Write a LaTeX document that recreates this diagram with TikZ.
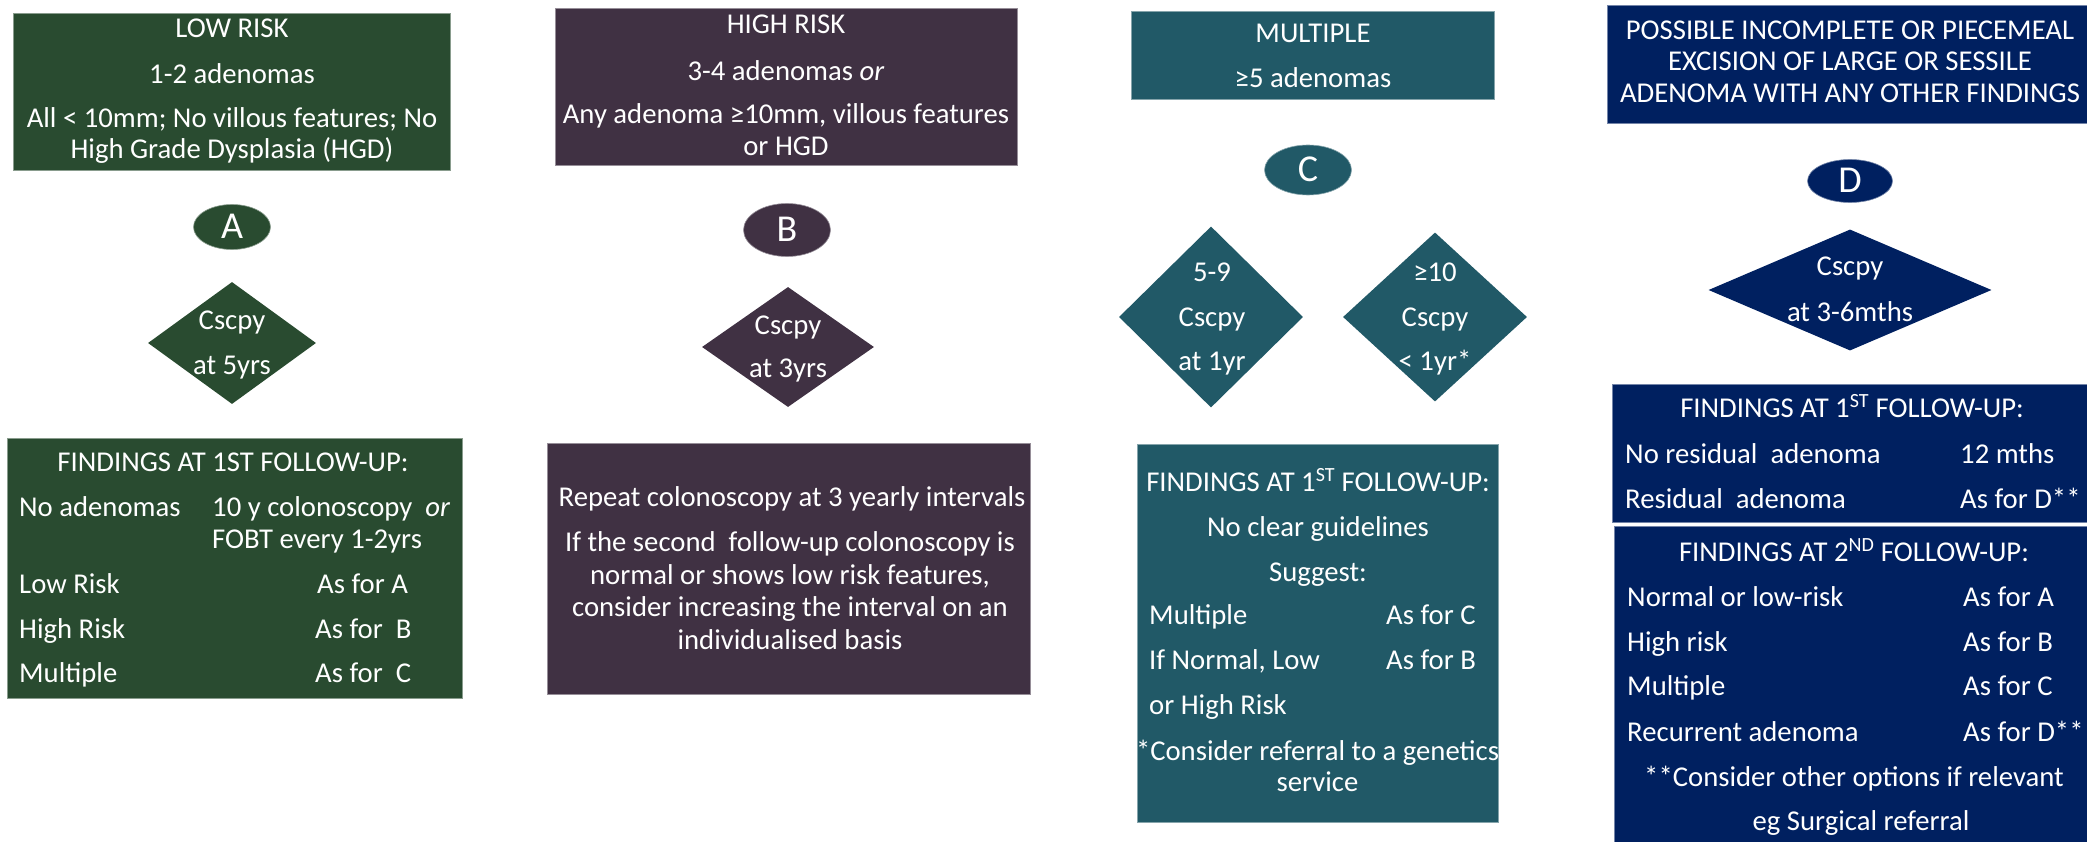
\documentclass[tikz,border=0pt]{standalone}
\usepackage{fontspec}
\setmainfont{Carlito}
\usetikzlibrary{shapes.geometric}
\definecolor{cgreen}{RGB}{41,75,48}
\definecolor{cpurple}{RGB}{64,49,67}
\definecolor{cteal}{RGB}{33,89,103}
\definecolor{cnavy}{RGB}{0,32,96}
\tikzset{
  txt/.style={inner sep=0pt, text height=18pt, text depth=0pt, text=white, font=\fontsize{28.7}{32}\selectfont},
  txtl/.style={txt, anchor=west},
  box/.style={rectangle, inner sep=0pt, fill=#1, draw=#1!55!white, line width=0.8pt},
  oval/.style={ellipse, inner sep=0pt, fill=#1, draw=#1!55!white, line width=0.6pt, text=white,
     text height=24pt, text depth=0pt, font=\fontsize{38}{40}\selectfont},
  dia/.style={diamond, inner sep=0pt, fill=#1, draw=none}
}
\begin{document}
\begin{tikzpicture}[x=1pt,y=-1pt]
\useasboundingbox (0,0) rectangle (2087,842);
\clip (0,0) rectangle (2087,842);

% ---------------- Column A ----------------
\node[box=cgreen, minimum width=437, minimum height=157] (boxA1) at (231.5,91.5) {};
\node[txt] (a1) at (232,29) {LOW RISK};
\node[txt] (a2) at (232,75) {1-2 adenomas};
\node[txt] (a3) at (232,119) {All < 10mm; No villous features; No};
\node[txt] (a4) at (232,150) {High Grade Dysplasia (HGD)};
\node[oval=cgreen, minimum width=77, minimum height=45] (ovA) at (232,227) {A};
\node[dia=cgreen, minimum width=168, minimum height=122] (diaA) at (232,343) {};
\node[txt] (da1) at (232,320) {Cscpy};
\node[txt] (da2) at (232,365) {at 5yrs};
\node[box=cgreen, minimum width=455, minimum height=260] (boxA2) at (234.5,568) {};
\node[txt] (fa0) at (233,462) {FINDINGS AT 1ST FOLLOW-UP:};
\node[txtl] (fa1) at (19,507) {No adenomas};
\node[txtl] (fa2) at (212,507) {10 y colonoscopy\ \ \textit{or}};
\node[txtl] (fa3) at (212,539) {FOBT every 1-2yrs};
\node[txtl] (fa4) at (19,584) {Low Risk};
\node[txtl] (fa5) at (317,584) {As for A};
\node[txtl] (fa6) at (19,629) {High Risk};
\node[txtl] (fa7) at (315,629) {As for\ \ B};
\node[txtl] (fa8) at (19,673) {Multiple};
\node[txtl] (fa9) at (315,673) {As for\ \ C};

% ---------------- Column B ----------------
\node[box=cpurple, minimum width=462, minimum height=157] (boxB1) at (786,86.5) {};
\node[txt] (b1) at (786,25) {HIGH RISK};
\node[txt] (b2) at (786,72) {3-4 adenomas \textit{or}};
\node[txt] (b3) at (786,115) {Any adenoma ≥10mm, villous features};
\node[txt] (b4) at (786,147) {or HGD};
\node[oval=cpurple, minimum width=87, minimum height=53] (ovB) at (787,230) {B};
\node[dia=cpurple, minimum width=172, minimum height=120] (diaB) at (788,347) {};
\node[txt] (db1) at (788,325) {Cscpy};
\node[txt] (db2) at (788,368) {at 3yrs};
\node[box=cpurple, minimum width=483, minimum height=251] (boxB2) at (788.5,568.5) {};
\node[txt] (fb1) at (792,497) {Repeat colonoscopy at 3 yearly intervals};
\node[txt] (fb2) at (790,542) {If the second\ \ follow-up colonoscopy is};
\node[txt] (fb3) at (790,575) {normal or shows low risk features,};
\node[txt] (fb4) at (790,607) {consider increasing the interval on an};
\node[txt] (fb5) at (790,640) {individualised basis};

% ---------------- Column C ----------------
\node[box=cteal, minimum width=363, minimum height=88] (boxC1) at (1312.5,55) {};
\node[txt] (c1) at (1313,34) {MULTIPLE};
\node[txt] (c2) at (1313,79) {≥5 adenomas};
\node[oval=cteal, minimum width=87, minimum height=50] (ovC) at (1308,170) {C};
\node[dia=cteal, minimum width=184, minimum height=181] (diaC1) at (1211,317) {};
\node[txt] (dc1) at (1212,272) {5-9};
\node[txt] (dc2) at (1212,317) {Cscpy};
\node[txt] (dc3) at (1212,361) {at 1yr};
\node[dia=cteal, minimum width=184, minimum height=169] (diaC2) at (1435,317) {};
\node[txt] (dc4) at (1435,272) {≥10};
\node[txt] (dc5) at (1435,317) {Cscpy};
\node[txt] (dc6) at (1435,361) {< 1yr*};
\node[box=cteal, minimum width=361, minimum height=378] (boxC2) at (1317.5,633) {};
\node[txt] (fc0) at (1318,482) {FINDINGS AT 1\textsuperscript{ST} FOLLOW-UP:};
\node[txt] (fc1) at (1318,527) {No clear guidelines};
\node[txt] (fc2) at (1318,572) {Suggest:};
\node[txtl] (fc3) at (1149,615) {Multiple};
\node[txtl] (fc4) at (1386,615) {As for C};
\node[txtl] (fc5) at (1149,660) {If Normal, Low};
\node[txtl] (fc6) at (1386,660) {As for B};
\node[txtl] (fc7) at (1149,705) {or High Risk};
\node[txt] (fc8) at (1317.5,751) {*Consider referral to a genetics};
\node[txt] (fc9) at (1317.5,782) {service};

% ---------------- Column D ----------------
\node[box=cnavy, minimum width=488, minimum height=118] (boxD1) at (1851,64) {};
\node[txt] (d1) at (1850,31) {POSSIBLE INCOMPLETE OR PIECEMEAL};
\node[txt] (d2) at (1850,62) {EXCISION OF LARGE OR SESSILE};
\node[txt] (d3) at (1850,94) {ADENOMA WITH ANY OTHER FINDINGS};
\node[oval=cnavy, minimum width=85, minimum height=43] (ovD) at (1850,181) {D};
\node[dia=cnavy, minimum width=283, minimum height=121] (diaD) at (1850,290) {};
\node[txt] (dd1) at (1850,267) {Cscpy};
\node[txt] (dd2) at (1850,312) {at 3-6mths};
\node[box=cnavy, minimum width=483, minimum height=138] (boxD2) at (1853.5,453) {};
\node[txt] (fd0) at (1852,408) {FINDINGS AT 1\textsuperscript{ST} FOLLOW-UP:};
\node[txtl] (fd1) at (1625,454) {No residual\ \ adenoma};
\node[txtl] (fd2) at (1960,454) {12 mths};
\node[txtl] (fd3) at (1625,499) {Residual\ \ adenoma};
\node[txtl] (fd4) at (1960,499) {As for D**};
\node[box=cnavy, minimum width=481, minimum height=334] (boxD3) at (1854.5,693) {};
\node[txt] (fe0) at (1854,552) {FINDINGS AT 2\textsuperscript{ND} FOLLOW-UP:};
\node[txtl] (fe1) at (1627,597) {Normal or low-risk};
\node[txtl] (fe2) at (1963,597) {As for A};
\node[txtl] (fe3) at (1627,642) {High risk};
\node[txtl] (fe4) at (1963,642) {As for B};
\node[txtl] (fe5) at (1627,686) {Multiple};
\node[txtl] (fe6) at (1963,686) {As for C};
\node[txtl] (fe7) at (1627,732) {Recurrent adenoma};
\node[txtl] (fe8) at (1963,732) {As for D**};
\node[txt] (fe9) at (1854,777) {**Consider other options if relevant};
\node[txt] (fe10) at (1861,821) {eg Surgical referral};
\end{tikzpicture}
\end{document}
